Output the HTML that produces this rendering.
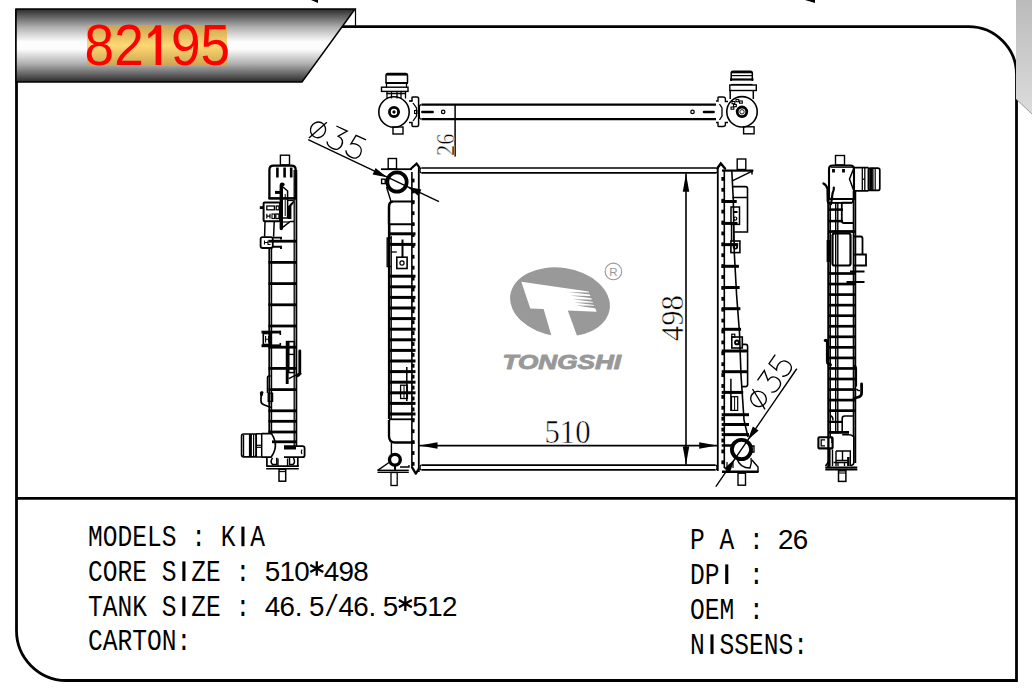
<!DOCTYPE html>
<html><head><meta charset="utf-8">
<style>
html,body{margin:0;padding:0;background:#fff;}
body{width:1032px;height:699px;position:relative;overflow:hidden;}
svg{position:absolute;left:0;top:0;}
.t{position:absolute;font-family:"Liberation Mono",monospace;font-size:28.8px;line-height:1;color:#000;white-space:pre;transform-origin:0 0;transform:scaleX(0.853);}
.numx{position:absolute;font-family:"Liberation Sans",sans-serif;color:#f00;white-space:pre;line-height:1;}
.mn{font-family:"Liberation Mono",monospace;font-size:28.8px;fill:#000;}
.dg{font-family:"Liberation Sans",sans-serif;font-size:27.8px;fill:#000;}
</style></head><body>
<svg width="1032" height="699" viewBox="0 0 1032 699">
<defs>
<linearGradient id="bg" x1="0" y1="0" x2="0" y2="1">
<stop offset="0" stop-color="#2a2a2a"/>
<stop offset="0.25" stop-color="#b0b0b0"/>
<stop offset="0.45" stop-color="#fdfdfd"/>
<stop offset="0.55" stop-color="#fdfdfd"/>
<stop offset="0.75" stop-color="#b0b0b0"/>
<stop offset="1" stop-color="#2a2a2a"/>
</linearGradient>
<linearGradient id="gold" x1="0" y1="0" x2="0" y2="1">
<stop offset="0" stop-color="#c9a352"/>
<stop offset="0.5" stop-color="#ffd872"/>
<stop offset="1" stop-color="#c9a352"/>
</linearGradient>
<linearGradient id="gr" x1="0" y1="0" x2="0" y2="1">
<stop offset="0" stop-color="#bbbbbb"/>
<stop offset="1" stop-color="#dcdcdc"/>
</linearGradient>
</defs>
<!-- frame -->
<path d="M342 26.6 H968 A48 48 0 0 1 1016.5 74.6 V680.5 H66 A50 50 0 0 1 16.5 630.5 V9" fill="none" stroke="#000" stroke-width="2.8"/>
<line x1="16" y1="498.3" x2="1016" y2="498.3" stroke="#000" stroke-width="2.8"/>
<!-- banner -->
<polygon points="16,9 355,9 302,82 16,82" fill="url(#bg)" stroke="#000" stroke-width="1.5"/>
<line x1="355.5" y1="9" x2="355.5" y2="26" stroke="#000" stroke-width="1.2"/>
<rect x="87" y="25" width="140" height="41" fill="url(#gold)"/>
<polygon points="311,0 318,0 318,3" fill="#000"/>
<polygon points="805,0 815,0 815,3" fill="#000"/>
<polygon points="1016,0 1032,0 1032,114 1016,99" fill="url(#gr)"/>
<line x1="1016" y1="99" x2="1032" y2="114" stroke="#666" stroke-width="0.6"/>
<g id="drawing">
<path d="M421.5 104.6 H716 M421.5 119.2 H716" fill="none" stroke="#000" stroke-width="2.3" stroke-linecap="butt" stroke-linejoin="miter"/>
<path d="M421.5 104.6 Q419.4 104.6 419.4 107 V117 Q419.4 119.2 421.5 119.2" fill="none" stroke="#000" stroke-width="1.2" stroke-linecap="butt" stroke-linejoin="miter"/>
<line x1="422.30" y1="111.90" x2="432.70" y2="111.90" stroke="#000" stroke-width="2.5" stroke-linecap="round"/>
<circle cx="443.2" cy="111.9" r="1.7" fill="none" stroke="#000" stroke-width="1.3"/>
<line x1="704.00" y1="111.90" x2="713.60" y2="111.90" stroke="#000" stroke-width="2.5" stroke-linecap="round"/>
<circle cx="692.5" cy="111.9" r="1.7" fill="none" stroke="#000" stroke-width="1.3"/>
<circle cx="394" cy="112" r="15.2" fill="none" stroke="#000" stroke-width="1.6"/>
<circle cx="394" cy="112" r="4.6" fill="none" stroke="#000" stroke-width="2.8"/>
<circle cx="394" cy="112" r="1.2" fill="#000" stroke="#000" stroke-width="1"/>
<path d="M386 83 V75.5 Q386 73.5 388 73.5 H405.5 Q407.5 73.5 407.5 75.5 V83" fill="none" stroke="#000" stroke-width="1.5" stroke-linecap="butt" stroke-linejoin="miter"/>
<line x1="386.50" y1="74.60" x2="407.00" y2="74.60" stroke="#000" stroke-width="2" stroke-linecap="butt"/>
<line x1="385.50" y1="83.00" x2="408.00" y2="83.00" stroke="#000" stroke-width="2" stroke-linecap="butt"/>
<rect x="381.5" y="87.2" width="26.5" height="4.2" rx="0" fill="none" stroke="#000" stroke-width="1.4"/>
<path d="M386.5 83 V87.2 M406.5 83 V87.2" fill="none" stroke="#000" stroke-width="1.3" stroke-linecap="butt" stroke-linejoin="miter"/>
<line x1="387.00" y1="91.40" x2="387.00" y2="98.50" stroke="#000" stroke-width="1.3" stroke-linecap="butt"/>
<line x1="391.50" y1="91.40" x2="391.50" y2="98.50" stroke="#000" stroke-width="1.3" stroke-linecap="butt"/>
<line x1="397.00" y1="91.40" x2="397.00" y2="98.50" stroke="#000" stroke-width="1.3" stroke-linecap="butt"/>
<line x1="401.00" y1="91.40" x2="401.00" y2="98.50" stroke="#000" stroke-width="1.3" stroke-linecap="butt"/>
<line x1="405.50" y1="91.40" x2="405.50" y2="98.50" stroke="#000" stroke-width="1.3" stroke-linecap="butt"/>
<line x1="386.50" y1="93.50" x2="406.00" y2="93.50" stroke="#000" stroke-width="1.5" stroke-linecap="butt"/>
<rect x="393" y="127" width="10" height="7" rx="0" fill="none" stroke="#000" stroke-width="1.4"/>
<path d="M409 101 H412 V97.5 Q412 97 413 97 H417 Q418.6 97 418.6 99 V124.5 Q418.6 126.5 417 126.5 H413 Q412 126.5 412 125.5 V122.5 H409" fill="none" stroke="#000" stroke-width="1.5" stroke-linecap="butt" stroke-linejoin="miter"/>
<path d="M413 103 L416.5 108 V116 L413 121" fill="none" stroke="#000" stroke-width="1.3" stroke-linecap="butt" stroke-linejoin="miter"/>
<rect x="414.5" y="110.5" width="2.5" height="3" rx="0" fill="none" stroke="#000" stroke-width="1"/>
<circle cx="742" cy="111.8" r="15.2" fill="none" stroke="#000" stroke-width="1.6"/>
<circle cx="742" cy="111.8" r="4.8" fill="none" stroke="#000" stroke-width="2.8"/>
<circle cx="742" cy="111.8" r="2.2" fill="none" stroke="#000" stroke-width="0.9"/>
<path d="M731.2 81 V73 Q731.2 71.2 733 71.2 H750.5 Q752.3 71.2 752.3 73 V81" fill="none" stroke="#000" stroke-width="1.5" stroke-linecap="butt" stroke-linejoin="miter"/>
<line x1="731.50" y1="72.30" x2="752.00" y2="72.30" stroke="#000" stroke-width="2" stroke-linecap="butt"/>
<line x1="731.00" y1="75.60" x2="752.50" y2="75.60" stroke="#000" stroke-width="1.2" stroke-linecap="butt"/>
<line x1="730.00" y1="79.50" x2="753.50" y2="79.50" stroke="#000" stroke-width="2.2" stroke-linecap="butt"/>
<rect x="729.8" y="85" width="26.5" height="5.5" rx="0" fill="none" stroke="#000" stroke-width="1.4"/>
<line x1="731.00" y1="84.50" x2="752.50" y2="84.50" stroke="#000" stroke-width="1.2" stroke-linecap="butt"/>
<line x1="730.20" y1="90.50" x2="730.20" y2="99.00" stroke="#000" stroke-width="1.5" stroke-linecap="butt"/>
<line x1="753.30" y1="90.50" x2="753.30" y2="99.00" stroke="#000" stroke-width="1.5" stroke-linecap="butt"/>
<rect x="743.6" y="126.8" width="10.5" height="7" rx="0" fill="none" stroke="#000" stroke-width="1.4"/>
<rect x="732" y="101.5" width="2.8" height="2.2" rx="0" fill="none" stroke="#000" stroke-width="1.1"/>
<rect x="736" y="99.5" width="2.8" height="2.2" rx="0" fill="none" stroke="#000" stroke-width="1.1"/>
<rect x="739.5" y="101" width="2.8" height="2.2" rx="0" fill="none" stroke="#000" stroke-width="1.1"/>
<rect x="733.5" y="104.5" width="2.8" height="2.2" rx="0" fill="none" stroke="#000" stroke-width="1.1"/>
<rect x="731" y="107" width="2.8" height="2.2" rx="0" fill="none" stroke="#000" stroke-width="1.1"/>
<path d="M716 101 H718 V97.5 Q718 97 719 97 H723 Q725.4 97 725.4 99 V101.5 H728 M716 122.5 H718 V126 Q718 126.5 719 126.5 H723 Q725.4 126.5 725.4 124.5 V122.5 H728" fill="none" stroke="#000" stroke-width="1.4" stroke-linecap="butt" stroke-linejoin="miter"/>
<path d="M719.5 104 L722 108 V116 L719.5 120" fill="none" stroke="#000" stroke-width="1.3" stroke-linecap="butt" stroke-linejoin="miter"/>
<path d="M410 101 H412" fill="none" stroke="#000" stroke-width="1" stroke-linecap="butt" stroke-linejoin="miter"/>
<line x1="455.10" y1="104.00" x2="455.10" y2="156.50" stroke="#000" stroke-width="1.5" stroke-linecap="butt"/>
<path d="M421.5 168 H716 M421.5 172.8 H716" fill="none" stroke="#000" stroke-width="1.7" stroke-linecap="butt" stroke-linejoin="miter"/>
<path d="M421.5 168 Q420 168 420 170.4 Q420 172.8 421.5 172.8 M716 168 Q717.5 168 717.5 170.4 Q717.5 172.8 716 172.8" fill="none" stroke="#000" stroke-width="1.2" stroke-linecap="butt" stroke-linejoin="miter"/>
<path d="M421.5 465.2 H715.5 M421.5 469.8 H715.5" fill="none" stroke="#000" stroke-width="1.7" stroke-linecap="butt" stroke-linejoin="miter"/>
<path d="M421.5 465.2 Q420 465.2 420 467.5 Q420 469.8 421.5 469.8 M715.5 465.2 Q717 465.2 717 467.5 Q717 469.8 715.5 469.8" fill="none" stroke="#000" stroke-width="1.2" stroke-linecap="butt" stroke-linejoin="miter"/>
<line x1="418.80" y1="167.50" x2="418.80" y2="472.00" stroke="#000" stroke-width="1.8" stroke-linecap="butt"/>
<line x1="717.80" y1="167.50" x2="717.80" y2="471.00" stroke="#000" stroke-width="1.8" stroke-linecap="butt"/>
<line x1="411.90" y1="172.00" x2="411.90" y2="468.00" stroke="#000" stroke-width="1.6" stroke-linecap="butt"/>
<rect x="411.9" y="178.60" width="2.6" height="3.8" fill="#000"/>
<rect x="411.9" y="189.50" width="2.6" height="3.8" fill="#000"/>
<rect x="411.9" y="200.40" width="2.6" height="3.8" fill="#000"/>
<rect x="411.9" y="211.30" width="2.6" height="3.8" fill="#000"/>
<rect x="411.9" y="222.20" width="2.6" height="3.8" fill="#000"/>
<rect x="411.9" y="233.10" width="2.6" height="3.8" fill="#000"/>
<rect x="411.9" y="244.00" width="2.6" height="3.8" fill="#000"/>
<rect x="411.9" y="254.90" width="2.6" height="3.8" fill="#000"/>
<rect x="411.9" y="265.80" width="2.6" height="3.8" fill="#000"/>
<rect x="411.9" y="276.70" width="2.6" height="3.8" fill="#000"/>
<rect x="411.9" y="287.60" width="2.6" height="3.8" fill="#000"/>
<rect x="411.9" y="298.50" width="2.6" height="3.8" fill="#000"/>
<rect x="411.9" y="309.40" width="2.6" height="3.8" fill="#000"/>
<rect x="411.9" y="320.30" width="2.6" height="3.8" fill="#000"/>
<rect x="411.9" y="331.20" width="2.6" height="3.8" fill="#000"/>
<rect x="411.9" y="342.10" width="2.6" height="3.8" fill="#000"/>
<rect x="411.9" y="353.00" width="2.6" height="3.8" fill="#000"/>
<rect x="411.9" y="363.90" width="2.6" height="3.8" fill="#000"/>
<rect x="411.9" y="374.80" width="2.6" height="3.8" fill="#000"/>
<rect x="411.9" y="385.70" width="2.6" height="3.8" fill="#000"/>
<rect x="411.9" y="396.60" width="2.6" height="3.8" fill="#000"/>
<rect x="411.9" y="407.50" width="2.6" height="3.8" fill="#000"/>
<rect x="411.9" y="418.40" width="2.6" height="3.8" fill="#000"/>
<rect x="411.9" y="429.30" width="2.6" height="3.8" fill="#000"/>
<rect x="411.9" y="440.20" width="2.6" height="3.8" fill="#000"/>
<rect x="411.9" y="451.10" width="2.6" height="3.8" fill="#000"/>
<rect x="411.9" y="462.00" width="2.6" height="3.8" fill="#000"/>
<rect x="388.2" y="158.5" width="8.3" height="10.5" rx="0" fill="none" stroke="#000" stroke-width="1.4"/>
<line x1="381.00" y1="169.20" x2="412.00" y2="169.20" stroke="#000" stroke-width="1.8" stroke-linecap="butt"/>
<path d="M411.2 168.5 L416.6 163.6 L419.5 167.6" fill="none" stroke="#000" stroke-width="2.2" stroke-linecap="round" stroke-linejoin="miter"/>
<rect x="381.6" y="179.2" width="3.6" height="4.4" rx="0" fill="none" stroke="#000" stroke-width="1.4"/>
<circle cx="397" cy="182" r="9.7" fill="none" stroke="#000" stroke-width="3.7"/>
<path d="M386.5 187 L391 201.5" fill="none" stroke="#000" stroke-width="1.4" stroke-linecap="butt" stroke-linejoin="miter"/>
<path d="M393 201.5 H414.5 M389 224.3 H414.5" fill="none" stroke="#000" stroke-width="2" stroke-linecap="butt" stroke-linejoin="miter"/>
<path d="M393 201.5 Q389 201.5 389 207 V224.3" fill="none" stroke="#000" stroke-width="2.5" stroke-linecap="butt" stroke-linejoin="miter"/>
<line x1="389.20" y1="224.00" x2="389.20" y2="419.00" stroke="#000" stroke-width="2.6" stroke-linecap="butt"/>
<line x1="391.30" y1="236.00" x2="391.30" y2="419.00" stroke="#000" stroke-width="1.2" stroke-linecap="butt"/>
<line x1="389.00" y1="233.80" x2="415.50" y2="233.80" stroke="#000" stroke-width="3" stroke-linecap="butt"/>
<line x1="389.00" y1="244.40" x2="415.50" y2="244.40" stroke="#000" stroke-width="3" stroke-linecap="butt"/>
<line x1="389.00" y1="276.20" x2="415.50" y2="276.20" stroke="#000" stroke-width="3" stroke-linecap="butt"/>
<line x1="389.00" y1="286.80" x2="415.50" y2="286.80" stroke="#000" stroke-width="3" stroke-linecap="butt"/>
<line x1="389.00" y1="297.40" x2="415.50" y2="297.40" stroke="#000" stroke-width="3" stroke-linecap="butt"/>
<line x1="389.00" y1="308.00" x2="415.50" y2="308.00" stroke="#000" stroke-width="3" stroke-linecap="butt"/>
<line x1="389.00" y1="318.60" x2="415.50" y2="318.60" stroke="#000" stroke-width="3" stroke-linecap="butt"/>
<line x1="389.00" y1="329.20" x2="415.50" y2="329.20" stroke="#000" stroke-width="3" stroke-linecap="butt"/>
<line x1="389.00" y1="339.80" x2="415.50" y2="339.80" stroke="#000" stroke-width="3" stroke-linecap="butt"/>
<line x1="389.00" y1="350.40" x2="415.50" y2="350.40" stroke="#000" stroke-width="3" stroke-linecap="butt"/>
<line x1="389.00" y1="361.00" x2="415.50" y2="361.00" stroke="#000" stroke-width="3" stroke-linecap="butt"/>
<line x1="389.00" y1="371.60" x2="415.50" y2="371.60" stroke="#000" stroke-width="3" stroke-linecap="butt"/>
<line x1="389.00" y1="382.20" x2="415.50" y2="382.20" stroke="#000" stroke-width="3" stroke-linecap="butt"/>
<line x1="389.00" y1="392.80" x2="415.50" y2="392.80" stroke="#000" stroke-width="3" stroke-linecap="butt"/>
<line x1="389.00" y1="403.40" x2="415.50" y2="403.40" stroke="#000" stroke-width="3" stroke-linecap="butt"/>
<line x1="389.00" y1="414.00" x2="415.50" y2="414.00" stroke="#000" stroke-width="3" stroke-linecap="butt"/>
<line x1="402.50" y1="239.50" x2="402.50" y2="257.00" stroke="#000" stroke-width="2" stroke-linecap="butt"/>
<rect x="396.8" y="257.2" width="10.3" height="11.3" rx="0" fill="none" stroke="#000" stroke-width="1.6"/>
<circle cx="402" cy="263" r="2.1" fill="none" stroke="#000" stroke-width="1.2"/>
<path d="M391 238 H387.2 V266.5 H391" fill="none" stroke="#000" stroke-width="1.4" stroke-linecap="butt" stroke-linejoin="miter"/>
<line x1="391.00" y1="252.00" x2="396.80" y2="252.00" stroke="#000" stroke-width="1.3" stroke-linecap="butt"/>
<line x1="406.80" y1="367.00" x2="406.80" y2="401.00" stroke="#000" stroke-width="1.5" stroke-linecap="butt"/>
<rect x="400.6" y="385.2" width="6.8" height="13.3" rx="0" fill="none" stroke="#000" stroke-width="1.3"/>
<line x1="404.00" y1="385.00" x2="404.00" y2="398.50" stroke="#000" stroke-width="1" stroke-linecap="butt"/>
<line x1="389.00" y1="419.30" x2="414.50" y2="419.30" stroke="#000" stroke-width="1.8" stroke-linecap="butt"/>
<path d="M389 420 V436 Q389 442.5 395 442.5 H414.5" fill="none" stroke="#000" stroke-width="2.3" stroke-linecap="butt" stroke-linejoin="miter"/>
<line x1="391.40" y1="443.00" x2="391.40" y2="454.00" stroke="#000" stroke-width="1.4" stroke-linecap="butt"/>
<circle cx="394.9" cy="459.8" r="5.4" fill="none" stroke="#000" stroke-width="3.4"/>
<path d="M377.7 470.3 L389 462.5" fill="none" stroke="#000" stroke-width="1.4" stroke-linecap="butt" stroke-linejoin="miter"/>
<line x1="377.50" y1="470.30" x2="408.80" y2="470.30" stroke="#000" stroke-width="1.4" stroke-linecap="butt"/>
<line x1="377.50" y1="472.30" x2="408.80" y2="472.30" stroke="#000" stroke-width="1.4" stroke-linecap="butt"/>
<line x1="395.00" y1="465.30" x2="395.00" y2="470.00" stroke="#000" stroke-width="2" stroke-linecap="butt"/>
<rect x="391" y="472.5" width="6.2" height="13" rx="0" fill="none" stroke="#000" stroke-width="1.3"/>
<path d="M400 467 H409 V465" fill="none" stroke="#000" stroke-width="1.3" stroke-linecap="butt" stroke-linejoin="miter"/>
<path d="M411.8 466.8 L415.8 473.6 L419 468.5" fill="none" stroke="#000" stroke-width="2.3" stroke-linecap="butt" stroke-linejoin="round"/>
<line x1="724.30" y1="171.00" x2="724.30" y2="468.00" stroke="#000" stroke-width="1.6" stroke-linecap="butt"/>
<rect x="721.4" y="177.00" width="2.9" height="3.8" fill="#000"/>
<rect x="721.4" y="187.90" width="2.9" height="3.8" fill="#000"/>
<rect x="721.4" y="198.80" width="2.9" height="3.8" fill="#000"/>
<rect x="721.4" y="209.70" width="2.9" height="3.8" fill="#000"/>
<rect x="721.4" y="220.60" width="2.9" height="3.8" fill="#000"/>
<rect x="721.4" y="231.50" width="2.9" height="3.8" fill="#000"/>
<rect x="721.4" y="242.40" width="2.9" height="3.8" fill="#000"/>
<rect x="721.4" y="253.30" width="2.9" height="3.8" fill="#000"/>
<rect x="721.4" y="264.20" width="2.9" height="3.8" fill="#000"/>
<rect x="721.4" y="275.10" width="2.9" height="3.8" fill="#000"/>
<rect x="721.4" y="286.00" width="2.9" height="3.8" fill="#000"/>
<rect x="721.4" y="296.90" width="2.9" height="3.8" fill="#000"/>
<rect x="721.4" y="307.80" width="2.9" height="3.8" fill="#000"/>
<rect x="721.4" y="318.70" width="2.9" height="3.8" fill="#000"/>
<rect x="721.4" y="329.60" width="2.9" height="3.8" fill="#000"/>
<rect x="721.4" y="340.50" width="2.9" height="3.8" fill="#000"/>
<rect x="721.4" y="351.40" width="2.9" height="3.8" fill="#000"/>
<rect x="721.4" y="362.30" width="2.9" height="3.8" fill="#000"/>
<rect x="721.4" y="373.20" width="2.9" height="3.8" fill="#000"/>
<rect x="721.4" y="384.10" width="2.9" height="3.8" fill="#000"/>
<rect x="721.4" y="395.00" width="2.9" height="3.8" fill="#000"/>
<rect x="721.4" y="405.90" width="2.9" height="3.8" fill="#000"/>
<rect x="721.4" y="416.80" width="2.9" height="3.8" fill="#000"/>
<rect x="721.4" y="427.70" width="2.9" height="3.8" fill="#000"/>
<rect x="721.4" y="438.60" width="2.9" height="3.8" fill="#000"/>
<rect x="721.4" y="449.50" width="2.9" height="3.8" fill="#000"/>
<rect x="721.4" y="460.40" width="2.9" height="3.8" fill="#000"/>
<rect x="737.2" y="159" width="8.6" height="10.5" rx="0" fill="none" stroke="#000" stroke-width="1.4"/>
<line x1="722.00" y1="170.60" x2="753.20" y2="170.60" stroke="#000" stroke-width="2.2" stroke-linecap="butt"/>
<path d="M753.2 170.6 L732.3 180.9 M752 170.6 V174.5" fill="none" stroke="#000" stroke-width="1.5" stroke-linecap="butt" stroke-linejoin="miter"/>
<path d="M717.5 168 L720.8 163.5 L725 168.5" fill="none" stroke="#000" stroke-width="2.4" stroke-linecap="round" stroke-linejoin="miter"/>
<path d="M731.8 171 L733.3 200 L734.3 253 L736.6 295 L739.5 333 L741 375 L744 420 L748 437" fill="none" stroke="#000" stroke-width="1.6" stroke-linecap="butt" stroke-linejoin="miter"/>
<path d="M732.6 186.6 H745.5 Q747.5 186.6 747.5 188.6 V232 H734.3" fill="none" stroke="#000" stroke-width="1.6" stroke-linecap="butt" stroke-linejoin="miter"/>
<line x1="732.60" y1="197.50" x2="747.50" y2="197.50" stroke="#000" stroke-width="1.5" stroke-linecap="butt"/>
<rect x="731" y="207" width="8.5" height="17.4" rx="0" fill="none" stroke="#000" stroke-width="1.5"/>
<line x1="733.00" y1="212.00" x2="737.50" y2="212.00" stroke="#000" stroke-width="2" stroke-linecap="butt"/>
<circle cx="735.2" cy="218.6" r="1.6" fill="none" stroke="#000" stroke-width="1.2"/>
<line x1="731.50" y1="224.40" x2="731.50" y2="241.00" stroke="#000" stroke-width="1.4" stroke-linecap="butt"/>
<line x1="733.50" y1="224.40" x2="733.50" y2="241.00" stroke="#000" stroke-width="1.4" stroke-linecap="butt"/>
<rect x="730.9" y="241" width="9" height="11.6" rx="0" fill="none" stroke="#000" stroke-width="1.6"/>
<circle cx="735.4" cy="246.8" r="1.8" fill="none" stroke="#000" stroke-width="1.8"/>
<line x1="721.70" y1="201.50" x2="736.73" y2="201.50" stroke="#000" stroke-width="3" stroke-linecap="butt"/>
<line x1="721.70" y1="223.40" x2="737.48" y2="223.40" stroke="#000" stroke-width="3" stroke-linecap="butt"/>
<line x1="721.70" y1="244.60" x2="738.20" y2="244.60" stroke="#000" stroke-width="3" stroke-linecap="butt"/>
<line x1="721.70" y1="266.30" x2="738.93" y2="266.30" stroke="#000" stroke-width="3" stroke-linecap="butt"/>
<line x1="721.70" y1="287.50" x2="739.65" y2="287.50" stroke="#000" stroke-width="3" stroke-linecap="butt"/>
<line x1="721.70" y1="308.70" x2="740.38" y2="308.70" stroke="#000" stroke-width="3" stroke-linecap="butt"/>
<line x1="721.70" y1="329.30" x2="741.08" y2="329.30" stroke="#000" stroke-width="3" stroke-linecap="butt"/>
<line x1="721.70" y1="351.00" x2="747.50" y2="351.00" stroke="#000" stroke-width="3" stroke-linecap="butt"/>
<line x1="721.70" y1="371.70" x2="747.50" y2="371.70" stroke="#000" stroke-width="3" stroke-linecap="butt"/>
<line x1="721.70" y1="392.40" x2="743.22" y2="392.40" stroke="#000" stroke-width="3" stroke-linecap="butt"/>
<line x1="721.70" y1="414.70" x2="749.00" y2="414.70" stroke="#000" stroke-width="3" stroke-linecap="butt"/>
<line x1="721.70" y1="424.50" x2="749.00" y2="424.50" stroke="#000" stroke-width="3" stroke-linecap="butt"/>
<line x1="721.70" y1="434.60" x2="749.00" y2="434.60" stroke="#000" stroke-width="3" stroke-linecap="butt"/>
<line x1="721.70" y1="445.50" x2="732.00" y2="445.50" stroke="#000" stroke-width="2.5" stroke-linecap="butt"/>
<rect x="731.8" y="337" width="10.5" height="11" rx="0" fill="none" stroke="#000" stroke-width="1.6"/>
<circle cx="737" cy="342.4" r="1.9" fill="none" stroke="#000" stroke-width="2"/>
<rect x="731.8" y="334.2" width="3" height="2.8" rx="0" fill="none" stroke="#000" stroke-width="1.2"/>
<path d="M742.3 344.4 H745.5 Q747.6 344.4 747.6 346.5 V384.6 Q747.6 386.6 745.5 386.6 H741.5" fill="none" stroke="#000" stroke-width="1.6" stroke-linecap="butt" stroke-linejoin="miter"/>
<line x1="730.90" y1="378.70" x2="730.90" y2="411.00" stroke="#000" stroke-width="1.5" stroke-linecap="butt"/>
<rect x="731.5" y="396.7" width="6.2" height="13.7" rx="0" fill="none" stroke="#000" stroke-width="1.2"/>
<line x1="734.60" y1="396.70" x2="734.60" y2="410.40" stroke="#000" stroke-width="1" stroke-linecap="butt"/>
<circle cx="741.5" cy="449.5" r="9.6" fill="none" stroke="#000" stroke-width="3.8"/>
<path d="M751 446 H754 V452 H751" fill="none" stroke="#000" stroke-width="1.3" stroke-linecap="butt" stroke-linejoin="miter"/>
<path d="M737 459 Q740 468 750 468 Q752 463 751 458" fill="none" stroke="#000" stroke-width="1.4" stroke-linecap="butt" stroke-linejoin="miter"/>
<path d="M752 460 L758 467 V472" fill="none" stroke="#000" stroke-width="1.4" stroke-linecap="butt" stroke-linejoin="miter"/>
<line x1="722.00" y1="471.80" x2="758.50" y2="471.80" stroke="#000" stroke-width="2.4" stroke-linecap="butt"/>
<rect x="738" y="473.2" width="7.5" height="12" rx="0" fill="none" stroke="#000" stroke-width="1.4"/>
<path d="M727 468 V462 M733 468 V463" fill="none" stroke="#000" stroke-width="1.2" stroke-linecap="butt" stroke-linejoin="miter"/>
<line x1="686.00" y1="173.60" x2="686.00" y2="464.80" stroke="#000" stroke-width="1.6" stroke-linecap="butt"/>
<polygon points="686.00,173.80 689.25,191.80 682.75,191.80" fill="#000"/>
<polygon points="686.00,464.50 682.75,446.50 689.25,446.50" fill="#000"/>
<line x1="419.30" y1="445.60" x2="717.00" y2="445.60" stroke="#000" stroke-width="1.6" stroke-linecap="butt"/>
<polygon points="419.50,445.60 437.50,442.35 437.50,448.85" fill="#000"/>
<polygon points="717.20,445.60 699.20,448.85 699.20,442.35" fill="#000"/>
<line x1="308.20" y1="139.60" x2="439.00" y2="201.60" stroke="#000" stroke-width="1.4" stroke-linecap="butt"/>
<polygon points="386.77,177.19 372.62,174.39 375.60,168.06" fill="#000"/>
<polygon points="407.23,186.81 421.38,189.61 418.40,195.94" fill="#000"/>
<line x1="796.77" y1="368.75" x2="715.83" y2="486.58" stroke="#000" stroke-width="1.4" stroke-linecap="butt"/>
<polygon points="747.75,440.11 752.79,426.58 758.56,430.55" fill="#000"/>
<polygon points="734.85,458.89 729.81,472.42 724.04,468.45" fill="#000"/>
<rect x="280.4" y="155.2" width="9.1" height="9.7" rx="0" fill="none" stroke="#000" stroke-width="1.4"/>
<path d="M269.4 199 V170 Q269.4 165.7 273.5 165.7 H291.5 Q295.7 165.7 295.7 170 V199" fill="none" stroke="#000" stroke-width="2.3" stroke-linecap="butt" stroke-linejoin="miter"/>
<line x1="277.40" y1="167.50" x2="277.40" y2="177.50" stroke="#000" stroke-width="2.6" stroke-linecap="butt"/>
<line x1="284.60" y1="167.50" x2="284.60" y2="177.50" stroke="#000" stroke-width="2.6" stroke-linecap="butt"/>
<line x1="291.20" y1="167.50" x2="291.20" y2="177.50" stroke="#000" stroke-width="2.6" stroke-linecap="butt"/>
<line x1="268.50" y1="198.40" x2="297.00" y2="198.40" stroke="#000" stroke-width="2.6" stroke-linecap="butt"/>
<line x1="269.40" y1="248.00" x2="269.40" y2="434.00" stroke="#000" stroke-width="2.1" stroke-linecap="butt"/>
<line x1="271.60" y1="248.00" x2="271.60" y2="434.00" stroke="#000" stroke-width="1.2" stroke-linecap="butt"/>
<line x1="294.20" y1="170.00" x2="294.20" y2="446.00" stroke="#000" stroke-width="1.3" stroke-linecap="butt"/>
<line x1="296.40" y1="170.00" x2="296.40" y2="446.00" stroke="#000" stroke-width="1.8" stroke-linecap="butt"/>
<line x1="268.50" y1="241.20" x2="297.00" y2="241.20" stroke="#000" stroke-width="2.8" stroke-linecap="butt"/>
<line x1="268.50" y1="262.40" x2="297.00" y2="262.40" stroke="#000" stroke-width="2.8" stroke-linecap="butt"/>
<line x1="268.50" y1="283.60" x2="297.00" y2="283.60" stroke="#000" stroke-width="2.8" stroke-linecap="butt"/>
<line x1="268.50" y1="304.80" x2="297.00" y2="304.80" stroke="#000" stroke-width="2.8" stroke-linecap="butt"/>
<line x1="268.50" y1="326.00" x2="297.00" y2="326.00" stroke="#000" stroke-width="2.8" stroke-linecap="butt"/>
<line x1="268.50" y1="347.20" x2="297.00" y2="347.20" stroke="#000" stroke-width="2.8" stroke-linecap="butt"/>
<line x1="268.50" y1="368.40" x2="297.00" y2="368.40" stroke="#000" stroke-width="2.8" stroke-linecap="butt"/>
<line x1="268.50" y1="389.60" x2="297.00" y2="389.60" stroke="#000" stroke-width="2.8" stroke-linecap="butt"/>
<line x1="268.50" y1="410.80" x2="297.00" y2="410.80" stroke="#000" stroke-width="2.8" stroke-linecap="butt"/>
<line x1="268.50" y1="432.00" x2="297.00" y2="432.00" stroke="#000" stroke-width="2.8" stroke-linecap="butt"/>
<line x1="268.50" y1="421.30" x2="297.00" y2="421.30" stroke="#000" stroke-width="2.8" stroke-linecap="butt"/>
<rect x="263.6" y="202.4" width="16.4" height="18.8" rx="1" fill="none" stroke="#000" stroke-width="2.0"/>
<rect x="266.8" y="206" width="7.6" height="3.8" rx="0" fill="none" stroke="#000" stroke-width="1.3"/>
<rect x="276.2" y="206" width="2.8" height="3.8" rx="0" fill="none" stroke="#000" stroke-width="1.3"/>
<path d="M266.8 213.8 V218.6 M266.8 216.2 H270 M270 213.8 V218.6" fill="none" stroke="#000" stroke-width="1.2" stroke-linecap="butt" stroke-linejoin="miter"/>
<rect x="272" y="214" width="2.5" height="4.5" rx="0" fill="none" stroke="#000" stroke-width="1.1"/>
<rect x="275.8" y="214" width="3.2" height="4.5" rx="0" fill="none" stroke="#000" stroke-width="1.3"/>
<line x1="259.80" y1="207.60" x2="263.60" y2="207.60" stroke="#000" stroke-width="2.8" stroke-linecap="butt"/>
<line x1="275.00" y1="192.40" x2="280.00" y2="192.40" stroke="#000" stroke-width="3" stroke-linecap="butt"/>
<path d="M281.3 228.5 V185.5 Q281.3 183.5 283 184.5" fill="none" stroke="#000" stroke-width="3.4" stroke-linecap="round" stroke-linejoin="miter"/>
<path d="M283 187 L287.6 191 V218 H283" fill="none" stroke="#000" stroke-width="1.5" stroke-linecap="butt" stroke-linejoin="miter"/>
<line x1="285.20" y1="194.00" x2="285.20" y2="216.00" stroke="#000" stroke-width="1.0" stroke-linecap="butt"/>
<polygon points="287.8,206.5 293.8,200.3 293.8,203 291.4,206 291.4,219 287.8,219" fill="#000"/>
<line x1="287.80" y1="200.50" x2="293.60" y2="200.50" stroke="#000" stroke-width="1.2" stroke-linecap="butt"/>
<path d="M282.6 227.4 L290.3 221.4 H294" fill="none" stroke="#000" stroke-width="1.5" stroke-linecap="butt" stroke-linejoin="miter"/>
<path d="M282.6 222 H290" fill="none" stroke="#000" stroke-width="1.2" stroke-linecap="butt" stroke-linejoin="miter"/>
<path d="M265 221.8 L264.6 236.8 M274.2 221.8 L273.6 236.8" fill="none" stroke="#000" stroke-width="1.5" stroke-linecap="butt" stroke-linejoin="miter"/>
<rect x="260.6" y="237.2" width="12.2" height="10.8" rx="2" fill="none" stroke="#000" stroke-width="1.8"/>
<path d="M272.8 237.6 H281 V239.5 M272.8 246.8 H281 V249" fill="none" stroke="#000" stroke-width="1.9" stroke-linecap="butt" stroke-linejoin="miter"/>
<path d="M264.5 240.5 V244.5 M264.5 242.5 H267.5 M268 240.5 V244.5 H270.5" fill="none" stroke="#000" stroke-width="1.1" stroke-linecap="butt" stroke-linejoin="miter"/>
<line x1="261.50" y1="332.10" x2="280.80" y2="332.10" stroke="#000" stroke-width="2.8" stroke-linecap="butt"/>
<line x1="261.50" y1="345.80" x2="280.80" y2="345.80" stroke="#000" stroke-width="2.8" stroke-linecap="butt"/>
<path d="M280.3 330.8 V335 M280.3 347.2 V343" fill="none" stroke="#000" stroke-width="1.6" stroke-linecap="butt" stroke-linejoin="miter"/>
<rect x="263.3" y="333.5" width="7.5" height="11" rx="0" fill="none" stroke="#000" stroke-width="1.6"/>
<path d="M265.6 336 V342.5 M265.6 339.2 H268.6 M268.6 336 V342.5" fill="none" stroke="#000" stroke-width="1.1" stroke-linecap="butt" stroke-linejoin="miter"/>
<line x1="287.20" y1="340.80" x2="287.20" y2="384.00" stroke="#000" stroke-width="2.9" stroke-linecap="butt"/>
<rect x="288.8" y="341.6" width="5.6" height="31" rx="0" fill="none" stroke="#000" stroke-width="1.5"/>
<line x1="288.80" y1="354.40" x2="294.40" y2="354.40" stroke="#000" stroke-width="1.4" stroke-linecap="butt"/>
<path d="M288.7 378.7 L298.7 373.7 H301.5" fill="none" stroke="#000" stroke-width="1.5" stroke-linecap="butt" stroke-linejoin="miter"/>
<path d="M299.8 350.8 V372.5 Q299.8 375 297 376" fill="none" stroke="#000" stroke-width="2.8" stroke-linecap="round" stroke-linejoin="miter"/>
<path d="M267.4 393 V378 Q267.4 376 269 376 H270.6" fill="none" stroke="#000" stroke-width="1.4" stroke-linecap="butt" stroke-linejoin="miter"/>
<path d="M269.5 394 V404" fill="none" stroke="#000" stroke-width="1.4" stroke-linecap="butt" stroke-linejoin="miter"/>
<path d="M263 394 Q261 394 261 398 V401 Q261 404 264.5 405 L271 407.5" fill="none" stroke="#000" stroke-width="1.7" stroke-linecap="butt" stroke-linejoin="miter"/>
<path d="M261.5 395 Q260.5 392 262.2 392.6" fill="none" stroke="#000" stroke-width="2.6" stroke-linecap="round" stroke-linejoin="miter"/>
<rect x="268.2" y="393.2" width="4.4" height="8.2" rx="0" fill="none" stroke="#000" stroke-width="1.3"/>
<rect x="241.6" y="434" width="14.6" height="22.8" rx="2" fill="none" stroke="#000" stroke-width="1.7"/>
<line x1="243.60" y1="435.00" x2="243.60" y2="456.00" stroke="#000" stroke-width="1.2" stroke-linecap="butt"/>
<line x1="250.40" y1="434.00" x2="250.40" y2="457.00" stroke="#000" stroke-width="3" stroke-linecap="butt"/>
<line x1="253.60" y1="434.00" x2="253.60" y2="457.00" stroke="#000" stroke-width="1.2" stroke-linecap="butt"/>
<rect x="256.2" y="433.8" width="5.5" height="23.2" rx="0" fill="none" stroke="#000" stroke-width="1.5"/>
<line x1="256.20" y1="445.30" x2="261.70" y2="445.30" stroke="#000" stroke-width="1.2" stroke-linecap="butt"/>
<line x1="256.20" y1="447.30" x2="261.70" y2="447.30" stroke="#000" stroke-width="1.2" stroke-linecap="butt"/>
<path d="M261.7 433.6 H271.5 Q275.6 440 275.4 446 Q275 452 271 457.2 H261.7" fill="none" stroke="#000" stroke-width="1.7" stroke-linecap="butt" stroke-linejoin="miter"/>
<path d="M284 446.2 H302.6 Q304.6 446.2 304.6 448.2 V455.2 Q304.6 457.2 302.6 457.2 H284" fill="none" stroke="#000" stroke-width="1.8" stroke-linecap="butt" stroke-linejoin="miter"/>
<line x1="284.00" y1="448.20" x2="296.00" y2="448.20" stroke="#000" stroke-width="2.6" stroke-linecap="butt"/>
<path d="M302 449.5 Q300.6 451.7 302 454" fill="none" stroke="#000" stroke-width="1.2" stroke-linecap="butt" stroke-linejoin="miter"/>
<path d="M266.9 457.5 V466 M297.8 457.5 V466" fill="none" stroke="#000" stroke-width="1.7" stroke-linecap="butt" stroke-linejoin="miter"/>
<line x1="266.20" y1="466.20" x2="298.80" y2="466.20" stroke="#000" stroke-width="1.8" stroke-linecap="butt"/>
<line x1="266.20" y1="468.70" x2="298.80" y2="468.70" stroke="#000" stroke-width="1.5" stroke-linecap="butt"/>
<path d="M272.5 457.8 Q269.8 462 272.5 464.5 H276.8 V457.8 M289.5 457.8 V464.5 H293.2 Q295.6 462 293.5 458" fill="none" stroke="#000" stroke-width="1.5" stroke-linecap="butt" stroke-linejoin="miter"/>
<line x1="278.00" y1="458.50" x2="278.00" y2="466.00" stroke="#000" stroke-width="1.3" stroke-linecap="butt"/>
<line x1="287.50" y1="458.50" x2="287.50" y2="466.00" stroke="#000" stroke-width="1.3" stroke-linecap="butt"/>
<rect x="279" y="469.4" width="6.7" height="11.8" rx="0" fill="none" stroke="#000" stroke-width="1.5"/>
<line x1="279.00" y1="471.60" x2="285.70" y2="471.60" stroke="#000" stroke-width="1.1" stroke-linecap="butt"/>
<line x1="272.00" y1="441.80" x2="296.00" y2="441.80" stroke="#000" stroke-width="2.8" stroke-linecap="butt"/>
<rect x="835.5" y="155.5" width="9" height="9.5" rx="0" fill="none" stroke="#000" stroke-width="1.4"/>
<path d="M829 199 V169 Q829 165.5 832.5 165.5 H850.5 Q854 165.5 854 169 V199 Q854 199 850 199 H834 Q829 199 829 199" fill="none" stroke="#000" stroke-width="2.1" stroke-linecap="butt" stroke-linejoin="miter"/>
<line x1="831.00" y1="167.20" x2="853.00" y2="167.20" stroke="#000" stroke-width="1.3" stroke-linecap="butt"/>
<path d="M833.5 169 V172.5 M843.5 169 V172.5" fill="none" stroke="#000" stroke-width="2.8" stroke-linecap="butt" stroke-linejoin="miter"/>
<path d="M854 167.6 H868.5 M854 190.8 H868.5" fill="none" stroke="#000" stroke-width="1.7" stroke-linecap="butt" stroke-linejoin="miter"/>
<path d="M853.5 169 L849.5 179 L853.5 190" fill="none" stroke="#000" stroke-width="1.5" stroke-linecap="butt" stroke-linejoin="miter"/>
<line x1="862.30" y1="167.60" x2="862.30" y2="190.80" stroke="#000" stroke-width="1.3" stroke-linecap="butt"/>
<line x1="864.80" y1="167.60" x2="864.80" y2="190.80" stroke="#000" stroke-width="1.3" stroke-linecap="butt"/>
<line x1="862.30" y1="179.20" x2="864.80" y2="179.20" stroke="#000" stroke-width="1.3" stroke-linecap="butt"/>
<path d="M868.5 167.6 V190.8" fill="none" stroke="#000" stroke-width="1.3" stroke-linecap="butt" stroke-linejoin="miter"/>
<rect x="868.5" y="168.2" width="11.3" height="22.2" rx="2" fill="none" stroke="#000" stroke-width="1.7"/>
<line x1="870.90" y1="168.50" x2="870.90" y2="190.20" stroke="#000" stroke-width="3.2" stroke-linecap="butt"/>
<line x1="872.90" y1="168.50" x2="872.90" y2="190.20" stroke="#000" stroke-width="1.4" stroke-linecap="butt"/>
<line x1="875.20" y1="168.50" x2="875.20" y2="190.20" stroke="#000" stroke-width="1.2" stroke-linecap="butt"/>
<path d="M823.5 183.5 Q826.5 185 827.6 189 L827.8 201 Q828 204 831 204" fill="none" stroke="#000" stroke-width="2.4" stroke-linecap="round" stroke-linejoin="miter"/>
<path d="M833.8 187.5 Q834.2 190 832.6 193 L831.2 203" fill="none" stroke="#000" stroke-width="2.2" stroke-linecap="round" stroke-linejoin="miter"/>
<line x1="828.40" y1="199.00" x2="828.40" y2="467.00" stroke="#000" stroke-width="2.3" stroke-linecap="butt"/>
<line x1="830.30" y1="205.00" x2="830.30" y2="436.00" stroke="#000" stroke-width="1.4" stroke-linecap="butt"/>
<line x1="835.70" y1="203.00" x2="835.70" y2="433.50" stroke="#000" stroke-width="1.4" stroke-linecap="butt"/>
<line x1="837.80" y1="203.00" x2="837.80" y2="433.50" stroke="#000" stroke-width="1.4" stroke-linecap="butt"/>
<line x1="853.40" y1="191.00" x2="853.40" y2="436.00" stroke="#000" stroke-width="1.4" stroke-linecap="butt"/>
<line x1="855.30" y1="191.00" x2="855.30" y2="463.00" stroke="#000" stroke-width="1.9" stroke-linecap="butt"/>
<path d="M829 203 H851 Q853 203 853 200" fill="none" stroke="#000" stroke-width="1.5" stroke-linecap="butt" stroke-linejoin="miter"/>
<line x1="828.00" y1="209.60" x2="843.00" y2="209.60" stroke="#000" stroke-width="2.5" stroke-linecap="butt"/>
<line x1="828.00" y1="221.10" x2="843.00" y2="221.10" stroke="#000" stroke-width="2.5" stroke-linecap="butt"/>
<line x1="828.00" y1="231.50" x2="856.00" y2="231.50" stroke="#000" stroke-width="2.8" stroke-linecap="butt"/>
<path d="M841.8 202.6 H852 M841.8 202.6 V221 Q841.8 223 844 223 H853" fill="none" stroke="#000" stroke-width="1.8" stroke-linecap="butt" stroke-linejoin="miter"/>
<line x1="831.00" y1="202.60" x2="842.00" y2="202.60" stroke="#000" stroke-width="1.3" stroke-linecap="butt"/>
<line x1="828.00" y1="273.50" x2="856.00" y2="273.50" stroke="#000" stroke-width="2.7" stroke-linecap="butt"/>
<line x1="828.00" y1="284.05" x2="856.00" y2="284.05" stroke="#000" stroke-width="2.7" stroke-linecap="butt"/>
<line x1="828.00" y1="294.60" x2="856.00" y2="294.60" stroke="#000" stroke-width="2.7" stroke-linecap="butt"/>
<line x1="828.00" y1="305.15" x2="856.00" y2="305.15" stroke="#000" stroke-width="2.7" stroke-linecap="butt"/>
<line x1="828.00" y1="315.70" x2="856.00" y2="315.70" stroke="#000" stroke-width="2.7" stroke-linecap="butt"/>
<line x1="828.00" y1="326.25" x2="856.00" y2="326.25" stroke="#000" stroke-width="2.7" stroke-linecap="butt"/>
<line x1="828.00" y1="336.80" x2="856.00" y2="336.80" stroke="#000" stroke-width="2.7" stroke-linecap="butt"/>
<line x1="828.00" y1="347.35" x2="856.00" y2="347.35" stroke="#000" stroke-width="2.7" stroke-linecap="butt"/>
<line x1="828.00" y1="357.90" x2="856.00" y2="357.90" stroke="#000" stroke-width="2.7" stroke-linecap="butt"/>
<line x1="828.00" y1="368.45" x2="856.00" y2="368.45" stroke="#000" stroke-width="2.7" stroke-linecap="butt"/>
<line x1="828.00" y1="379.00" x2="856.00" y2="379.00" stroke="#000" stroke-width="2.7" stroke-linecap="butt"/>
<line x1="828.00" y1="389.55" x2="856.00" y2="389.55" stroke="#000" stroke-width="2.7" stroke-linecap="butt"/>
<line x1="828.00" y1="400.10" x2="856.00" y2="400.10" stroke="#000" stroke-width="2.7" stroke-linecap="butt"/>
<line x1="828.00" y1="410.65" x2="856.00" y2="410.65" stroke="#000" stroke-width="2.7" stroke-linecap="butt"/>
<rect x="832.5" y="233.5" width="18" height="32" rx="2" fill="none" stroke="#000" stroke-width="2.2"/>
<path d="M853.5 236.5 H860.5 Q862.5 236.5 862.5 238.5 V254.5 M853.5 254.5 H866 V265.5 H853.5" fill="none" stroke="#000" stroke-width="1.8" stroke-linecap="butt" stroke-linejoin="miter"/>
<line x1="828.50" y1="240.00" x2="828.50" y2="262.00" stroke="#000" stroke-width="3.8" stroke-linecap="butt"/>
<line x1="850.00" y1="271.50" x2="864.50" y2="271.50" stroke="#000" stroke-width="2" stroke-linecap="butt"/>
<line x1="846.50" y1="282.00" x2="864.50" y2="282.00" stroke="#000" stroke-width="2" stroke-linecap="butt"/>
<path d="M825.2 340.5 Q826.6 339.5 827.4 342 V361.5 Q827.6 364.5 830.5 364.8" fill="none" stroke="#000" stroke-width="3.0" stroke-linecap="round" stroke-linejoin="miter"/>
<path d="M853.8 365.5 Q856.4 366 856.4 369 V386.5" fill="none" stroke="#000" stroke-width="1.4" stroke-linecap="butt" stroke-linejoin="miter"/>
<path d="M861.6 384 V393 Q861.6 396.6 857.5 397.3 L854 398.5" fill="none" stroke="#000" stroke-width="2.8" stroke-linecap="round" stroke-linejoin="miter"/>
<path d="M856.4 389 Q858 391 860 390.5" fill="none" stroke="#000" stroke-width="1.3" stroke-linecap="butt" stroke-linejoin="miter"/>
<line x1="828.00" y1="421.90" x2="842.50" y2="421.90" stroke="#000" stroke-width="2.2" stroke-linecap="butt"/>
<line x1="828.00" y1="432.40" x2="849.00" y2="432.40" stroke="#000" stroke-width="2.8" stroke-linecap="butt"/>
<path d="M842.2 432 V418.5 Q842.2 416 844.7 416 H853.5" fill="none" stroke="#000" stroke-width="1.6" stroke-linecap="butt" stroke-linejoin="miter"/>
<path d="M842.2 434.8 H849 Q852 434.8 853 436.5" fill="none" stroke="#000" stroke-width="1.5" stroke-linecap="butt" stroke-linejoin="miter"/>
<path d="M830.2 415.5 Q833.5 417 832.8 420.5 M830.2 436.5 Q833 439 831.8 443" fill="none" stroke="#000" stroke-width="1.5" stroke-linecap="butt" stroke-linejoin="miter"/>
<rect x="818.4" y="437.2" width="14.2" height="11.2" rx="1" fill="none" stroke="#000" stroke-width="2.1"/>
<path d="M825 439.8 H821.2 V445.8 H825" fill="none" stroke="#000" stroke-width="1.3" stroke-linecap="butt" stroke-linejoin="miter"/>
<path d="M829.5 449 V466.5" fill="none" stroke="#000" stroke-width="2.2" stroke-linecap="butt" stroke-linejoin="miter"/>
<path d="M832.5 449.5 V466 M836 451 H850.3 V466 M836 451 V466 M842.5 451 V460 M836 460.5 H849" fill="none" stroke="#000" stroke-width="1.4" stroke-linecap="butt" stroke-linejoin="miter"/>
<path d="M833.5 462.5 H849 M838 462.5 V466 M844.5 462.5 V466" fill="none" stroke="#000" stroke-width="1.3" stroke-linecap="butt" stroke-linejoin="miter"/>
<path d="M848.3 457 V466" fill="none" stroke="#000" stroke-width="2.4" stroke-linecap="butt" stroke-linejoin="miter"/>
<path d="M825.5 466 L829.5 460.5" fill="none" stroke="#000" stroke-width="1.6" stroke-linecap="butt" stroke-linejoin="miter"/>
<path d="M853.8 436 V462.5 Q853.8 465 851 465.5" fill="none" stroke="#000" stroke-width="1.6" stroke-linecap="butt" stroke-linejoin="miter"/>
<line x1="825.30" y1="467.60" x2="857.30" y2="467.60" stroke="#000" stroke-width="2.2" stroke-linecap="butt"/>
<line x1="825.30" y1="469.80" x2="857.30" y2="469.80" stroke="#000" stroke-width="1.6" stroke-linecap="butt"/>
<rect x="838.5" y="470.8" width="7.4" height="10.6" rx="0" fill="none" stroke="#000" stroke-width="1.5"/>
<line x1="838.50" y1="473.00" x2="845.90" y2="473.00" stroke="#000" stroke-width="1.1" stroke-linecap="butt"/>
</g>

<g fill="#999999">
<ellipse cx="560" cy="302" rx="50.2" ry="34.3" transform="rotate(8 560 302)"/>
</g>
<clipPath id="elc"><ellipse cx="560" cy="302" rx="50.2" ry="34.3" transform="rotate(8 560 302)"/></clipPath>
<polygon points="521.3,281.8 588.6,291.6 596.6,311.8 567.8,310.4 579.3,342 553.3,342 543.6,309 530.3,308.5" fill="#fff"/>
<polygon points="568.6,291.9 598,292.70 598,295.50" fill="#999"/>
<polygon points="570.3,295.6 598,296.28 598,299.08" fill="#999"/>
<polygon points="572.6,299.3 598,299.81 598,302.60" fill="#999"/>
<polygon points="574.3,302.4 598,302.78 598,305.58" fill="#999"/>
<polygon points="576,305.6 598,305.85 598,308.65" fill="#999"/>
<circle cx="613.4" cy="271.4" r="8.3" fill="none" stroke="#999" stroke-width="1.1"/>
<text x="613.4" y="275.6" font-family="Liberation Sans" font-size="11.5" fill="#999" text-anchor="middle">R</text>
<text x="0" y="0" font-family="Liberation Sans" font-weight="bold" font-style="italic" font-size="19.5" fill="#999" stroke="#999" stroke-width="0.9" stroke-linejoin="round" transform="translate(502.5 369.4) scale(1.34 1)">TONGSHI</text>
<text x="0" y="0" font-family="Liberation Serif" font-size="29" fill="#000" transform="translate(683.4 341) rotate(-90) scale(1.055 1.12)">498</text>
<text x="0" y="0" font-family="Liberation Serif" font-size="29" fill="none" stroke="#fff" stroke-width="0.45" transform="translate(683.4 341) rotate(-90) scale(1.055 1.12)">498</text>
<text x="0" y="0" font-family="Liberation Serif" font-size="29" fill="#000" transform="translate(544.4 442.8) scale(1.06 1.13)">510</text>
<text x="0" y="0" font-family="Liberation Serif" font-size="29" fill="none" stroke="#fff" stroke-width="0.45" transform="translate(544.4 442.8) scale(1.06 1.13)">510</text>
<text x="0" y="0" font-family="Liberation Serif" font-size="23.5" fill="#000" transform="translate(453.6 156) rotate(-90) scale(0.95 1.07)">26</text>
<text x="0" y="0" font-family="Liberation Serif" font-size="23.5" fill="none" stroke="#fff" stroke-width="0.45" transform="translate(453.6 156) rotate(-90) scale(0.95 1.07)">26</text>
<g transform="translate(308.2 139.6) rotate(25.2)" stroke="#000" stroke-width="1.35"><ellipse cx="4.74" cy="-13" rx="7.5" ry="7.9" fill="none"/><line x1="-0.05999999999999961" y1="-1.8" x2="9.54" y2="-23.6"/><path d="M19.7 -24.3 H31.7 L25.7 -15.8 C30.2 -15.8 32.7 -13 32.7 -9 C32.7 -4.5 29.7 -2.3 25.7 -2.3 C22.2 -2.3 19.2 -3.8 17.9 -6.3" fill="none"/><path d="M52.5 -24.3 H41.5 L40.5 -14.5 C42.5 -16 44.5 -16.3 46.5 -16.3 C51 -16.3 53.5 -13 53.5 -9 C53.5 -4.5 50.5 -2.3 46.3 -2.3 C43 -2.3 40 -3.8 38.7 -6.3" fill="none"/></g><g transform="translate(754.6 427.6) rotate(-55.5)" stroke="#000" stroke-width="1.35"><ellipse cx="25.8" cy="-13" rx="7.5" ry="7.9" fill="none"/><line x1="21.0" y1="-1.8" x2="30.6" y2="-23.6"/><path d="M40.5 -24.3 H52.5 L46.5 -15.8 C51 -15.8 53.5 -13 53.5 -9 C53.5 -4.5 50.5 -2.3 46.5 -2.3 C43 -2.3 40 -3.8 38.7 -6.3" fill="none"/><path d="M71.8 -24.3 H60.8 L59.8 -14.5 C61.8 -16 63.8 -16.3 65.8 -16.3 C70.3 -16.3 72.8 -13 72.8 -9 C72.8 -4.5 69.8 -2.3 65.6 -2.3 C62.3 -2.3 59.3 -3.8 58.0 -6.3" fill="none"/></g>
<text x="0" y="0" font-family="Liberation Sans" font-size="56.5" fill="#f00" transform="translate(84.6 65.4) scale(0.94 1)">82</text>
<polygon points="155.6,25.3 161.2,25.3 161.2,65 155.6,65 155.6,33.2 148.3,38.6 148.3,34 153.3,29.6" fill="#f00"/>
<text x="0" y="0" font-family="Liberation Sans" font-size="56.5" fill="#f00" transform="translate(171 65.4) scale(0.94 1)">95</text>
<text class="mn" transform="translate(95.38 546.2) scale(0.853 1)" text-anchor="middle">M</text>
<text class="mn" transform="translate(110.14 546.2) scale(0.853 1)" text-anchor="middle">O</text>
<text class="mn" transform="translate(124.90 546.2) scale(0.853 1)" text-anchor="middle">D</text>
<text class="mn" transform="translate(139.66 546.2) scale(0.853 1)" text-anchor="middle">E</text>
<text class="mn" transform="translate(154.42 546.2) scale(0.853 1)" text-anchor="middle">L</text>
<text class="mn" transform="translate(169.18 546.2) scale(0.853 1)" text-anchor="middle">S</text>
<text class="mn" transform="translate(198.70 546.2) scale(0.853 1)" text-anchor="middle">:</text>
<text class="mn" transform="translate(228.22 546.2) scale(0.853 1)" text-anchor="middle">K</text>
<rect x="241.38" y="526.60" width="3.1" height="19.6" fill="#000"/>
<text class="mn" transform="translate(257.74 546.2) scale(0.853 1)" text-anchor="middle">A</text>
<text class="mn" transform="translate(95.38 581) scale(0.853 1)" text-anchor="middle">C</text>
<text class="mn" transform="translate(110.14 581) scale(0.853 1)" text-anchor="middle">O</text>
<text class="mn" transform="translate(124.90 581) scale(0.853 1)" text-anchor="middle">R</text>
<text class="mn" transform="translate(139.66 581) scale(0.853 1)" text-anchor="middle">E</text>
<text class="mn" transform="translate(169.18 581) scale(0.853 1)" text-anchor="middle">S</text>
<rect x="182.34" y="561.40" width="3.1" height="19.6" fill="#000"/>
<text class="mn" transform="translate(198.70 581) scale(0.853 1)" text-anchor="middle">Z</text>
<text class="mn" transform="translate(213.46 581) scale(0.853 1)" text-anchor="middle">E</text>
<text class="mn" transform="translate(242.98 581) scale(0.853 1)" text-anchor="middle">:</text>
<text class="dg" x="272.50" y="581" text-anchor="middle">5</text>
<text class="dg" x="287.26" y="581" text-anchor="middle">1</text>
<text class="dg" x="302.02" y="581" text-anchor="middle">0</text>
<path d="M316.78 561.20 V575.80 M310.28 564.90 L323.28 572.10 M310.28 572.10 L323.28 564.90" stroke="#000" stroke-width="2.3" fill="none"/>
<text class="dg" x="331.54" y="581" text-anchor="middle">4</text>
<text class="dg" x="346.30" y="581" text-anchor="middle">9</text>
<text class="dg" x="361.06" y="581" text-anchor="middle">8</text>
<text class="mn" transform="translate(95.38 616.1) scale(0.853 1)" text-anchor="middle">T</text>
<text class="mn" transform="translate(110.14 616.1) scale(0.853 1)" text-anchor="middle">A</text>
<text class="mn" transform="translate(124.90 616.1) scale(0.853 1)" text-anchor="middle">N</text>
<text class="mn" transform="translate(139.66 616.1) scale(0.853 1)" text-anchor="middle">K</text>
<text class="mn" transform="translate(169.18 616.1) scale(0.853 1)" text-anchor="middle">S</text>
<rect x="182.34" y="596.50" width="3.1" height="19.6" fill="#000"/>
<text class="mn" transform="translate(198.70 616.1) scale(0.853 1)" text-anchor="middle">Z</text>
<text class="mn" transform="translate(213.46 616.1) scale(0.853 1)" text-anchor="middle">E</text>
<text class="mn" transform="translate(242.98 616.1) scale(0.853 1)" text-anchor="middle">:</text>
<text class="dg" x="272.50" y="616.1" text-anchor="middle">4</text>
<text class="dg" x="287.26" y="616.1" text-anchor="middle">6</text>
<text class="dg" x="294.64" y="616.1">.</text>
<text class="dg" x="316.78" y="616.1" text-anchor="middle">5</text>
<text class="mn" transform="translate(331.54 616.1) scale(0.853 1)" text-anchor="middle">/</text>
<text class="dg" x="346.30" y="616.1" text-anchor="middle">4</text>
<text class="dg" x="361.06" y="616.1" text-anchor="middle">6</text>
<text class="dg" x="368.44" y="616.1">.</text>
<text class="dg" x="390.58" y="616.1" text-anchor="middle">5</text>
<path d="M405.34 596.30 V610.90 M398.84 600.00 L411.84 607.20 M398.84 607.20 L411.84 600.00" stroke="#000" stroke-width="2.3" fill="none"/>
<text class="dg" x="420.10" y="616.1" text-anchor="middle">5</text>
<text class="dg" x="434.86" y="616.1" text-anchor="middle">1</text>
<text class="dg" x="449.62" y="616.1" text-anchor="middle">2</text>
<text class="mn" transform="translate(95.38 650.1) scale(0.853 1)" text-anchor="middle">C</text>
<text class="mn" transform="translate(110.14 650.1) scale(0.853 1)" text-anchor="middle">A</text>
<text class="mn" transform="translate(124.90 650.1) scale(0.853 1)" text-anchor="middle">R</text>
<text class="mn" transform="translate(139.66 650.1) scale(0.853 1)" text-anchor="middle">T</text>
<text class="mn" transform="translate(154.42 650.1) scale(0.853 1)" text-anchor="middle">O</text>
<text class="mn" transform="translate(169.18 650.1) scale(0.853 1)" text-anchor="middle">N</text>
<text class="mn" transform="translate(183.94 650.1) scale(0.853 1)" text-anchor="middle">:</text>
<text class="mn" transform="translate(697.28 549) scale(0.853 1)" text-anchor="middle">P</text>
<text class="mn" transform="translate(726.80 549) scale(0.853 1)" text-anchor="middle">A</text>
<text class="mn" transform="translate(756.32 549) scale(0.853 1)" text-anchor="middle">:</text>
<text class="dg" x="785.84" y="549" text-anchor="middle">2</text>
<text class="dg" x="800.60" y="549" text-anchor="middle">6</text>
<text class="mn" transform="translate(697.28 584) scale(0.853 1)" text-anchor="middle">D</text>
<text class="mn" transform="translate(712.04 584) scale(0.853 1)" text-anchor="middle">P</text>
<rect x="725.20" y="564.40" width="3.1" height="19.6" fill="#000"/>
<text class="mn" transform="translate(756.32 584) scale(0.853 1)" text-anchor="middle">:</text>
<text class="mn" transform="translate(697.28 619.1) scale(0.853 1)" text-anchor="middle">O</text>
<text class="mn" transform="translate(712.04 619.1) scale(0.853 1)" text-anchor="middle">E</text>
<text class="mn" transform="translate(726.80 619.1) scale(0.853 1)" text-anchor="middle">M</text>
<text class="mn" transform="translate(756.32 619.1) scale(0.853 1)" text-anchor="middle">:</text>
<text class="mn" transform="translate(697.28 654) scale(0.853 1)" text-anchor="middle">N</text>
<rect x="710.44" y="634.40" width="3.1" height="19.6" fill="#000"/>
<text class="mn" transform="translate(726.80 654) scale(0.853 1)" text-anchor="middle">S</text>
<text class="mn" transform="translate(741.56 654) scale(0.853 1)" text-anchor="middle">S</text>
<text class="mn" transform="translate(756.32 654) scale(0.853 1)" text-anchor="middle">E</text>
<text class="mn" transform="translate(771.08 654) scale(0.853 1)" text-anchor="middle">N</text>
<text class="mn" transform="translate(785.84 654) scale(0.853 1)" text-anchor="middle">S</text>
<text class="mn" transform="translate(800.60 654) scale(0.853 1)" text-anchor="middle">:</text>
</svg>


</body></html>
